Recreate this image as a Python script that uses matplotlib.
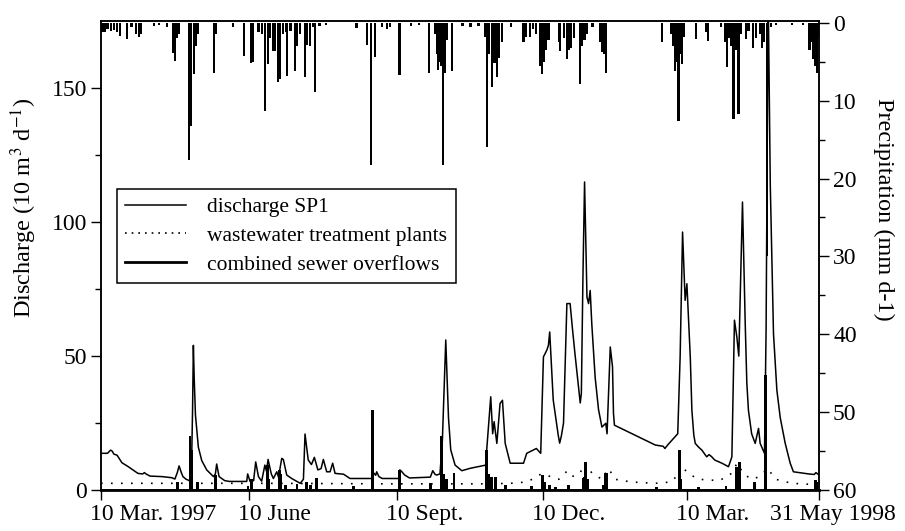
import matplotlib
matplotlib.use("Agg")
import matplotlib.pyplot as plt
import matplotlib.dates as mdates
import matplotlib.transforms as mtransforms
from matplotlib.lines import Line2D
from datetime import datetime
import numpy as np

plt.rcParams['font.family'] = ['Liberation Serif', 'DejaVu Serif']
plt.rcParams['mathtext.fontset'] = 'stix'

START = datetime(1997, 3, 10)

# discharge SP1 (10 m3/d), days after 10 Mar 1997
q_day = [0, 4, 6, 7, 8, 10, 13, 17, 23, 26, 27, 28, 30.5, 38, 44, 46, 47.5, 48.6, 50, 51, 53, 55,
         56.2, 57, 57.5, 58, 58.8, 60.6, 62.7, 65.8, 70, 71.2, 72, 73.5, 77, 80, 90.7, 91.3, 92.8,
         95, 96.3, 98, 100, 102, 103, 104, 106, 107.3, 109.4, 110.5, 112.5, 113.5, 115.6, 118.7,
         121, 124, 126, 127, 129, 131, 132.8, 135, 137, 138.4, 140.5, 142.6, 144.2, 145.7, 151,
         155, 168.5, 169.5, 171, 171.6, 173, 175, 185.5, 186, 187, 189, 192, 205, 206.5, 208, 209,
         211, 212.5, 214.6, 216.3, 217.7, 220.4, 224.6, 229.8, 239.5, 240, 242.6, 243.8, 244.7,
         246.4, 248.4, 249.9, 251.6, 254.7, 263, 265, 271, 273.7, 275.4, 277.5, 278.5, 279.3,
         281.5, 284.6, 285.5, 286.5, 287.9, 290, 292, 293.5, 295, 297, 298.3, 299, 300, 301,
         301.7, 302.5, 303.5, 304.5, 305.5, 307.6, 309.7, 311.8, 314.2, 315, 317, 318.4, 319,
         319.6, 345, 348, 350, 351, 353, 357.4, 359, 360.5, 362, 363.6, 364.7, 366.8, 367.8, 369,
         369.9, 372, 374, 377, 378.5, 380, 382, 386.5, 390.6, 392.7, 394.3, 395.8, 397, 399.3,
         400, 401, 402, 403, 405, 407.2, 409.3, 410.3, 413, 414, 415.3, 416.6, 417.5, 418.6, 420.7,
         422.8, 425.9, 429, 431, 440.5, 444, 445, 447]
q_val = [13.7, 13.7, 14.9, 14.5, 13.4, 13.0, 10.2, 8.7, 6.2, 6.0, 6.5, 6.0, 5.2, 5.0, 4.6, 4.1, 6.5,
         9.0, 6.5, 5.0, 4.0, 3.5, 4.0, 30, 54, 42, 28, 16, 11, 7.5, 5.0, 6.0, 9.7, 5.0, 3.5, 3.2,
         3.2, 6.0, 3.2, 3.5, 10.5, 5.0, 3.3, 9.3, 7.0, 11.4, 6.0, 4.3, 6.8, 4.8, 11.8, 11.4, 5.6,
         4.3, 3.5, 2.5, 4.0, 20.9, 11.2, 9.5, 12.2, 7.5, 8.0, 11.4, 6.8, 6.8, 10.0, 6.2, 5.9, 4.3,
         4.3, 6.5, 5.5, 6.8, 5.0, 4.3, 4.3, 7.5, 7.0, 5.6, 4.5, 4.8, 7.2, 5.8, 5.6, 6.0, 18.6, 56,
         27, 15, 9.3, 7.2, 8.1, 9.3, 14.3, 34.8, 21, 25.5, 17.4, 32.3, 33.5, 17.4, 10, 10, 13.7,
         15.5, 13.7, 49.7, 52.2, 54, 59, 33.6, 20.5, 17.5, 20, 25, 69.6, 69.6, 60, 51, 40, 32.5,
         36, 80, 115, 95, 72, 69.6, 74.5, 62, 42, 30, 23.5, 24.9, 21, 53.4, 46, 28.6, 24.2, 16.8,
         16.5, 16.3, 15.5, 17, 19.9, 21, 50, 96.3, 70.8, 77, 49.7, 29.8, 20.5, 17.4, 16, 14.9,
         12.4, 13.2, 12.5, 11.2, 10, 8.7, 12.4, 63.4, 57.1, 50, 107.5, 89.5, 62.1, 40, 29.8, 21,
         17.4, 23, 17.4, 13.7, 60, 185, 114, 89.5, 58.4, 37.3, 27, 17.4, 10, 6.8, 6.0, 5.8, 6.5,
         5.6]

# wastewater treatment plants
w_day = [0, 100, 180, 240, 255, 265, 270, 274, 280, 285, 290, 293, 298, 301, 306, 312, 316, 320,
         330, 345, 355, 358, 361, 366, 372, 385, 392, 396, 400, 405, 410, 415, 420, 430, 445, 447]
w_val = [2.5, 2.5, 2.3, 2.3, 2.5, 3.0, 4.5, 6.0, 5.0, 4.0, 7.0, 5.0, 6.0, 10.0, 6.0, 4.0, 8.0, 4.0,
         3.0, 2.5, 3.0, 5.0, 9.0, 6.0, 4.0, 3.5, 6.0, 10.0, 6.0, 4.0, 5.0, 8.0, 4.0, 2.5, 2.0, 3.0]

# combined sewer overflows
c_day = [47.7, 55.4, 56.3, 60, 71.3, 91.5, 93.5, 103.5, 104.5, 111, 112, 115, 122, 128, 130.5,
         134, 157, 169, 186, 205, 212, 213.5, 215, 219.8, 240, 241, 243, 245.5, 252, 268, 274.8,
         276, 279, 283, 291, 300, 300.8, 301.8, 302.8, 312.5, 313.8, 315, 346, 360, 361, 372, 389,
         395.8, 397.5, 407, 413.8, 444.6, 445.5]
c_val = [3, 20, 15, 3, 5.5, 1.5, 4, 9.3, 4, 7.5, 6, 2, 2.2, 3, 2, 4.3, 1.5, 29.8, 7.5, 2.5, 20, 6,
         4, 6.3, 15, 6, 5, 5, 2, 1.5, 5.6, 3, 2, 1, 2, 4.5, 5, 10.6, 4, 2, 6.2, 6.2, 1, 15, 4, 1,
         1.5, 8.7, 10.3, 3, 43, 3.7, 3]

# precipitation (mm/d)
p_day = [1, 2.5, 4, 6, 8, 10, 12, 16.4, 19, 22, 23.5, 25, 33, 36, 41, 45, 46, 47, 48.5, 54.8, 56,
         58, 59, 60, 70.4, 71.5, 82, 89, 93.4, 94.5, 98, 100, 102, 103.8, 105, 107, 108.5, 110.2,
         111.5, 113.5, 115, 116, 118, 120.8, 122, 124, 127, 128.3, 130, 132, 133.2, 136, 140,
         159, 165.4, 168, 170.6, 175, 178, 180, 185.8, 193, 198, 204, 208, 209, 210, 211, 212,
         213, 214, 215, 218.4, 225, 230, 235, 239, 240.1, 241.5, 243.6, 245, 246.4, 247.5, 249.5,
         255, 263, 264.5, 267, 269, 271, 273.5, 274.4, 275.5, 277, 278.5, 285, 285.8, 288, 290,
         291, 292.5, 294.5, 298.3, 299.5, 301, 302.5, 306, 310.5, 311.8, 313, 314.2, 349, 355,
         356, 357.4, 358.5, 359.5, 360.5, 361.6, 363, 370.3, 376.5, 378, 386, 388.5, 389.6, 391,
         392.5, 393.7, 395, 396.8, 398, 401.4, 403, 406, 407.5, 410, 411.4, 412.5, 414.5, 417,
         420, 430, 437, 441, 442, 443, 444.3, 445.6, 446.5]
p_val = [1.2, 1.2, 0.8, 1.0, 0.9, 1.2, 1.7, 2.1, 0.6, 1.5, 1.8, 1.5, 0.4, 0.3, 0.5, 3.9, 4.9, 2.0,
         1.5, 17.6, 13.2, 6.6, 3.0, 1.5, 6.5, 1.5, 0.6, 4.2, 5.1, 5.0, 1.2, 1.5, 11.3, 5.3, 2.0,
         3.6, 3.6, 7.6, 7.2, 1.5, 1.2, 6.8, 1.0, 6.2, 3.0, 1.5, 6.9, 2.8, 3.0, 0.5, 8.9, 0.4, 0.3,
         0.7, 2.9, 18.2, 4.4, 0.6, 0.8, 0.5, 6.7, 0.4, 0.3, 6.4, 1.5, 4.0, 6.0, 5.0, 5.5, 18.2,
         6.5, 2.2, 6.2, 0.4, 0.5, 0.4, 1.8, 16.0, 4.0, 8.2, 5.2, 7.0, 4.5, 2.5, 0.6, 2.5, 1.8,
         1.8, 0.8, 1.4, 5.5, 6.6, 5.0, 3.5, 2.2, 2.5, 3.6, 2.0, 4.6, 3.5, 3.2, 2.0, 7.9, 3.0, 2.2,
         1.5, 0.5, 2.5, 3.8, 4.0, 6.4, 2.5, 1.5, 3.0, 6.2, 5.0, 12.6, 4.0, 5.3, 1.8, 2.1, 1.2,
         2.3, 0.5, 2.5, 5.7, 2.0, 3.0, 12.3, 3.5, 11.7, 1.5, 2.1, 1.0, 3.2, 2.0, 1.5, 3.2, 2.5,
         29.9, 0.5, 0.3, 0.3, 0.3, 3.5, 2.5, 4.6, 5.5, 6.4, 2.0]

tick_dates = [datetime(1997, 3, 10), datetime(1997, 6, 10), datetime(1997, 9, 10),
              datetime(1997, 12, 10), datetime(1998, 3, 10), datetime(1998, 5, 31)]
tick_labels = ['10 Mar. 1997', '10 June', '10 Sept.', '10 Dec.', '10 Mar.', '31 May 1998']


def to_num(days):
    return mdates.date2num(START) + np.asarray(days, dtype=float)


fig = plt.figure(figsize=(9.05, 5.31), dpi=100)
ax = fig.add_axes([0.1116, 0.0772, 0.7935, 0.8828])
ax2 = ax.twinx()

ax.plot(to_num(q_day), q_val, color='black', lw=1.1, zorder=3)
ax.plot(to_num(w_day), w_val, color='black', lw=1.2, linestyle=(0, (1, 5)), zorder=2)
ax.bar(to_num(c_day), c_val, width=1.7, color='black', zorder=4)
ax2.bar(to_num(p_day), p_val, width=1.4, color='black')

ax.set_xlim(mdates.date2num(tick_dates[0]), mdates.date2num(tick_dates[-1]))
ax.set_ylim(0, 175)
ax2.set_ylim(60, -0.2)

ax.set_yticks([0, 50, 100, 150])
ax.set_yticks([25, 75, 125], minor=True)
ax2.set_yticks(range(0, 61, 10))
ax2.set_yticks(range(5, 60, 10), minor=True)
ax.set_xticks(mdates.date2num(tick_dates))
ax.set_xticklabels(tick_labels)

for a in (ax, ax2):
    a.tick_params(which='major', direction='out', length=7, width=1.0, labelsize=17, pad=3)
    a.tick_params(which='minor', direction='out', length=4, width=1.0)
    for s in a.spines.values():
        s.set_linewidth(1.1)
ax.spines['bottom'].set_linewidth(2.0)

offsets = [-11, -11, -11, -11, -11, -49]
for lab, off in zip(ax.get_xticklabels(), offsets):
    lab.set_ha('left')
    lab.set_transform(lab.get_transform() + mtransforms.ScaledTranslation(off / 100, 0, fig.dpi_scale_trans))

ax.set_ylabel('Discharge (10 m$^3$ d$^{\\mathrm{-1}}$)', fontsize=17.5, va='center')
ax.yaxis.set_label_coords(-0.107, 0.602)
ax2.set_ylabel('Precipitation (mm d-1)', fontsize=17.5, rotation=270, va='center')
ax2.yaxis.set_label_coords(1.09, 0.598)

handles = [Line2D([], [], color='black', lw=1.1),
           Line2D([], [], color='black', lw=1.2, linestyle=(0, (1, 3))),
           Line2D([], [], color='black', lw=2.0)]
leg = ax2.legend(handles, ['discharge SP1', 'wastewater treatment plants', 'combined sewer overflows'],
                 loc='upper left', bbox_to_anchor=(0.022, 0.643), fontsize=15.5, frameon=True,
                 fancybox=False, edgecolor='black', framealpha=1, handlelength=2.8,
                 handletextpad=1.0, labelspacing=0.4, borderpad=0.4, borderaxespad=0)
leg.get_frame().set_linewidth(1.1)

fig.savefig('out.png', dpi=100)
